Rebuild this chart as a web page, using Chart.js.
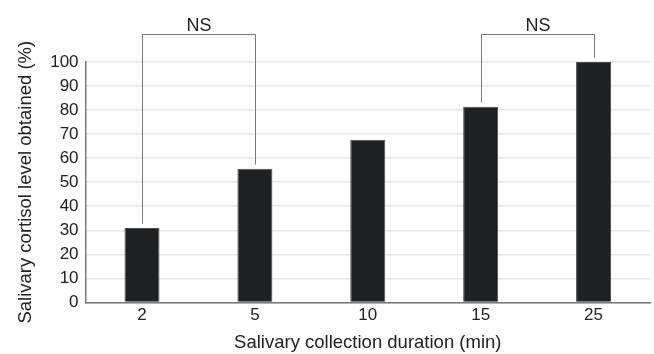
<!DOCTYPE html>
<html>
<head>
<meta charset="utf-8">
<script src="https://cdn.jsdelivr.net/npm/chart.js@4/dist/chart.umd.min.js"></script>
<style>
  html, body { margin: 0; padding: 0; background: #fff; }
  #wrap { width: 654px; height: 354px; position: relative; }
</style>
</head>
<body>
<div id="wrap"><canvas id="grafico"></canvas></div>
<script>
// datos
var duraciones = ["2", "5", "10", "15", "25"];
var nivelCortisol = [31, 55.6, 67.7, 81.4, 100];
var ticksY = [0, 10, 20, 30, 40, 50, 60, 70, 80, 90, 100];

// comparaciones NS: indices de barras y altura del corchete (en %)
var compIzq = [0, 3];
var compDer = [1, 4];
var compTexto = ["NS", "NS"];
var compAltura = [111.5, 111.5];

var fuente = "'Liberation Sans', Arial, Helvetica, sans-serif";

// dibuja los corchetes con la escala del grafico
var corchetes = {
  id: 'corchetes',
  afterDatasetsDraw: function(chart) {
    var ctx = chart.ctx;
    var x = chart.scales.x, y = chart.scales.y;
    ctx.save();
    ctx.strokeStyle = "#7a7a7a";
    ctx.lineWidth = 1;
    ctx.fillStyle = "#222";
    ctx.font = "18px " + fuente;
    ctx.textAlign = "center";
    ctx.textBaseline = "alphabetic";
    for (var i = 0; i < compIzq.length; i++) {
      var a = compIzq[i], b = compDer[i];
      var xa = Math.round(x.getPixelForValue(a)) + 0.5;
      var xb = Math.round(x.getPixelForValue(b)) + 0.5;
      var yt = Math.round(y.getPixelForValue(compAltura[i])) + 0.5;
      var ya = y.getPixelForValue(nivelCortisol[a] + 1.7);
      var yb = y.getPixelForValue(nivelCortisol[b] + 1.7);
      ctx.beginPath();
      ctx.moveTo(xa, ya);
      ctx.lineTo(xa, yt);
      ctx.lineTo(xb, yt);
      ctx.lineTo(xb, yb);
      ctx.stroke();
      ctx.fillText(compTexto[i], (xa + xb) / 2, yt - 4);
    }
    ctx.restore();
  }
};

new Chart(document.getElementById("grafico"), {
  type: 'bar',
  data: {
    labels: duraciones,
    datasets: [{
      data: nivelCortisol,
      backgroundColor: "#1f2022",
      borderColor: "#4a4a4a",
      borderWidth: 1,
      barPercentage: 0.31,
      categoryPercentage: 1
    }]
  },
  plugins: [corchetes],
  options: {
    responsive: true,
    maintainAspectRatio: false,
    animation: false,
    layout: { padding: { top: 62, right: 4, left: 15, bottom: 0 } },
    plugins: { legend: { display: false }, tooltip: { enabled: false } },
    scales: {
      x: {
        grid: { display: false, drawTicks: false },
        border: { color: "#777", width: 1.5 },
        ticks: { color: "#222", font: { family: fuente, size: 17 }, padding: 3 },
        title: {
          display: true,
          text: "Salivary collection duration (min)",
          color: "#222",
          font: { family: fuente, size: 18.5 },
          padding: { top: 3, bottom: 0 }
        }
      },
      y: {
        min: 0,
        max: 100,
        afterBuildTicks: function(axis) {
          axis.ticks = ticksY.map(function(v) { return { value: v }; });
        },
        grid: { color: "#e6e6e6", lineWidth: 1.5, drawTicks: false },
        border: { color: "#777", width: 1.5 },
        ticks: { color: "#222", font: { family: fuente, size: 17 }, padding: 7, autoSkip: false },
        title: {
          display: true,
          text: "Salivary cortisol level obtained (%)",
          color: "#222",
          font: { family: fuente, size: 18.5 },
          padding: { top: 0, bottom: 6 }
        }
      }
    }
  }
});
</script>
</body>
</html>
